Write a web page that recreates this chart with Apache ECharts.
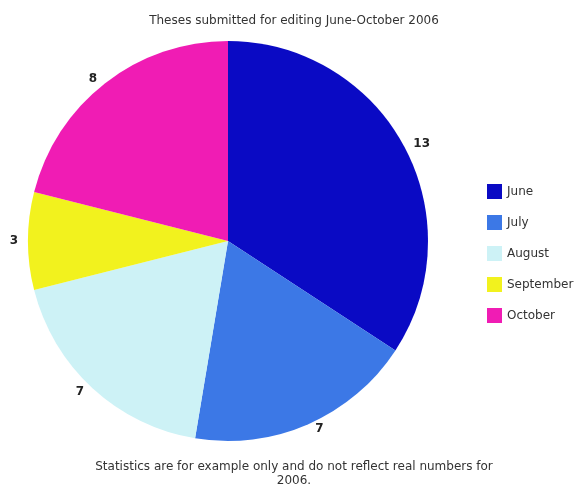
<!DOCTYPE html>
<html>
<head>
<meta charset="utf-8">
<script src="https://cdn.jsdelivr.net/npm/echarts@6/dist/echarts.min.js"></script>
<style>
  html, body { margin: 0; padding: 0; background: #fff; }
  #chart { width: 588px; height: 486px; }
</style>
</head>
<body>
<div id="chart"></div>
<script>
const months = ['June', 'July', 'August', 'September', 'October']
const theses = [13, 7, 7, 3, 8]
const colors = ['#0a0ac4', '#3c78e6', '#cdf2f6', '#f2f21e', '#f01cb4']

const chart = echarts.init(document.getElementById('chart'))
const font = '"DejaVu Sans", sans-serif'

chart.setOption({
  backgroundColor: '#fff',
  animation: false,
  title: [
    {
      text: 'Theses submitted for editing June-October 2006',
      left: 'center',
      top: 10,
      textStyle: { fontSize: 12, fontWeight: 'normal', color: '#333', fontFamily: font },
    },
    {
      text: 'Statistics are for example only and do not reflect real numbers for',
      left: 'center',
      top: 456,
      textStyle: { fontSize: 12, fontWeight: 'normal', color: '#333', fontFamily: font },
    },
    {
      text: '2006.',
      left: 'center',
      top: 470,
      textStyle: { fontSize: 12, fontWeight: 'normal', color: '#333', fontFamily: font },
    },
  ],
  legend: {
    orient: 'vertical',
    left: 482,
    top: 179,
    itemWidth: 15,
    itemHeight: 15,
    itemGap: 16,
    icon: 'rect',
    data: months,
    textStyle: { fontSize: 12, color: '#333', fontFamily: font },
  },
  series: [
    {
      type: 'pie',
      center: [228, 241],
      radius: 200,
      startAngle: 90,
      clockwise: true,
      avoidLabelOverlap: false,
      data: months.map((m, i) => ({ name: m, value: theses[i], itemStyle: { color: colors[i] } })),
      label: {
        position: 'outside',
        formatter: '{c}',
        fontSize: 12,
        fontWeight: 'bold',
        color: '#222',
        fontFamily: font,
        overflow: 'none',
      },
      labelLine: { show: true, length: 5, length2: 0, lineStyle: { opacity: 0 } },
      emphasis: { disabled: true },
    },
  ],
})
</script>
</body>
</html>
